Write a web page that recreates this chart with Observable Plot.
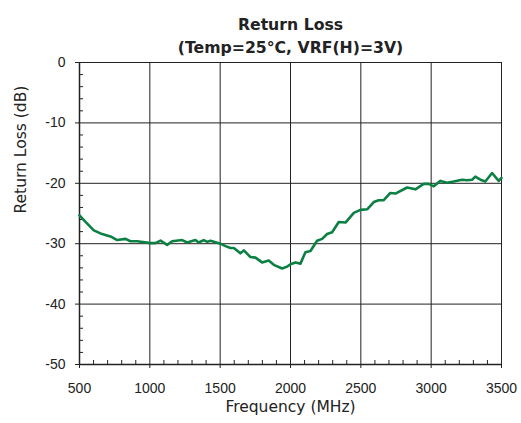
<!DOCTYPE html>
<html>
<head>
<meta charset="utf-8">
<script src="https://cdn.jsdelivr.net/npm/d3@7"></script>
<script src="https://cdn.jsdelivr.net/npm/@observablehq/plot@0.6"></script>
<style>
  body { margin: 0; background: #fff; }
  svg { font-family: "Liberation Sans", Arial, sans-serif; }
</style>
</head>
<body>
<div id="chart"></div>
<script>
const titleLines = ["Return Loss", "(Temp=25\u00B0C, VRF(H)=3V)"];
const xAxisTitle = ["Frequency (MHz)"];
const yAxisTitle = ["Return Loss (dB)"];
const xMajorTicks = [500, 1000, 1500, 2000, 2500, 3000, 3500];
const yMajorTicks = [0, -10, -20, -30, -40, -50];
const xMinorTicks = d3.range(600, 3500, 100).filter(v => v % 500 !== 0);
const yMinorTicks = d3.range(-2, -50, -2).filter(v => v % 10 !== 0);

const freq = [500, 543, 602, 649, 720, 768, 827, 862, 910, 1005, 1040, 1076, 1123, 1159, 1230, 1265, 1324, 1348, 1383, 1408, 1431, 1502, 1538, 1573, 1597, 1644, 1668, 1715, 1751, 1798, 1845, 1881, 1941, 1976, 2000, 2035, 2071, 2106, 2142, 2189, 2225, 2260, 2296, 2343, 2391, 2450, 2497, 2545, 2592, 2627, 2663, 2710, 2746, 2829, 2888, 2947, 2983, 3018, 3066, 3113, 3160, 3220, 3255, 3291, 3314, 3350, 3385, 3433, 3480, 3500];
const returnLoss = [-25.3, -26.4, -27.8, -28.3, -28.8, -29.4, -29.2, -29.6, -29.6, -29.9, -29.9, -29.5, -30.2, -29.6, -29.4, -29.8, -29.4, -29.8, -29.4, -29.7, -29.5, -30.0, -30.4, -30.7, -30.7, -31.6, -31.1, -32.2, -32.3, -33.1, -32.8, -33.5, -34.1, -33.8, -33.4, -33.1, -33.3, -31.4, -31.2, -29.5, -29.2, -28.4, -28.1, -26.4, -26.5, -24.9, -24.4, -24.3, -23.1, -22.8, -22.8, -21.6, -21.7, -20.7, -21.0, -20.1, -20.1, -20.5, -19.6, -19.9, -19.7, -19.4, -19.5, -19.4, -18.9, -19.4, -19.7, -18.3, -19.6, -19.1];

const data = freq.map((f, i) => ({f, rl: returnLoss[i]}));
const ink = "#222";
const plain = d => String(d);
const wideFont = "'DejaVu Sans', sans-serif";

const chart = Plot.plot({
  width: 521,
  height: 423,
  marginLeft: 79,
  marginRight: 20,
  marginTop: 62,
  marginBottom: 59,
  style: {fontSize: "14px", fontFamily: "'Liberation Sans', Arial, sans-serif", color: ink, background: "#fff"},
  x: {domain: [500, 3500]},
  y: {domain: [-50, 0]},
  marks: [
    Plot.gridX(xMajorTicks, {stroke: ink, strokeOpacity: 1, strokeWidth: 1}),
    Plot.gridY(yMajorTicks, {stroke: ink, strokeOpacity: 1, strokeWidth: 1}),
    Plot.axisX(xMinorTicks, {tickSize: -4, tickFormat: () => "", label: null, stroke: ink}),
    Plot.axisY(yMinorTicks, {tickSize: -4, tickFormat: () => "", label: null, stroke: ink}),
    Plot.axisX(xMajorTicks, {tickSize: 4, tickPadding: 15, fontSize: 14, tickFormat: plain, label: null, stroke: ink, fill: ink}),
    Plot.axisY(yMajorTicks, {tickSize: 4, tickPadding: 10, fontSize: 14, tickFormat: plain, label: null, stroke: ink, fill: ink}),
    Plot.ruleY([-50], {stroke: ink, strokeWidth: 1.5}),
    Plot.ruleX([500], {stroke: ink, strokeWidth: 1.5}),
    Plot.line(data, {x: "f", y: "rl", stroke: "#0b8043", strokeWidth: 2.6, curve: "linear"}),
    Plot.text(xAxisTitle, {frameAnchor: "bottom", dy: 47.7, fontSize: 15.5, fontFamily: wideFont, fill: ink}),
    Plot.text(yAxisTitle, {frameAnchor: "left", dx: -58, rotate: -90, fontSize: 15.5, fontFamily: wideFont, fill: ink}),
    Plot.text([titleLines[0]], {frameAnchor: "top", dy: -43.7, fontSize: 15.7, fontFamily: wideFont, fontWeight: "bold", fill: ink}),
    Plot.text([titleLines[1]], {frameAnchor: "top", dy: -20.5, fontSize: 15.7, fontFamily: wideFont, fontWeight: "bold", fill: ink})
  ]
});
document.getElementById("chart").appendChild(chart);
</script>
</body>
</html>
